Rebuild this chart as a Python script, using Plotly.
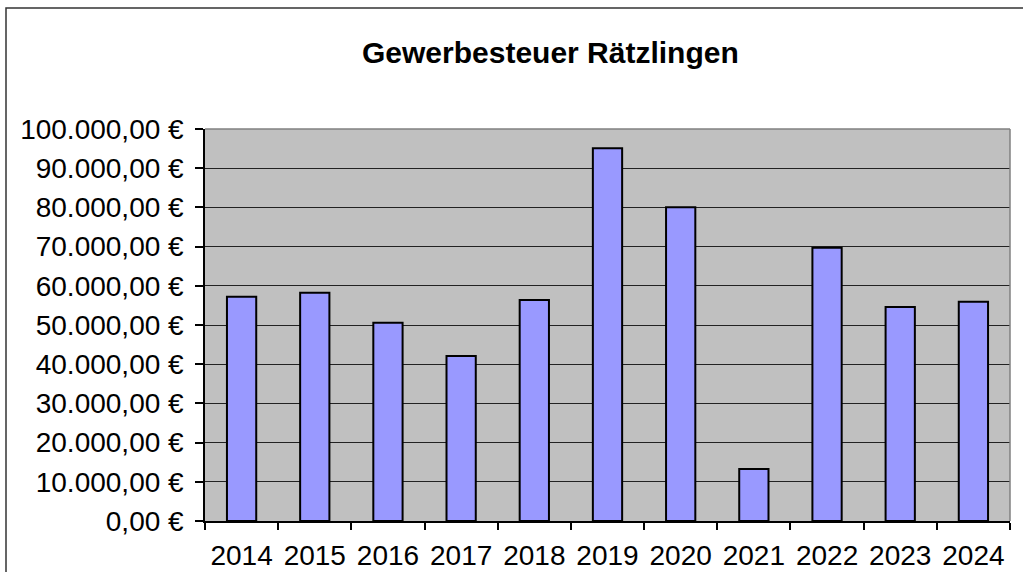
import plotly.graph_objects as go

years = ["2014", "2015", "2016", "2017", "2018", "2019", "2020", "2021", "2022", "2023", "2024"]
values = [57200, 58240, 50590, 42090, 56380, 95080, 80030, 13270, 69720, 54590, 55940]
y_tickvals = [0, 10000, 20000, 30000, 40000, 50000, 60000, 70000, 80000, 90000, 100000]
y_ticktext = ["0,00 €", "10.000,00 €", "20.000,00 €", "30.000,00 €", "40.000,00 €", "50.000,00 €",
              "60.000,00 €", "70.000,00 €", "80.000,00 €", "90.000,00 €", "100.000,00 €"]
title_text = "Gewerbesteuer Rätzlingen"

FONT = "Liberation Sans, Arial, sans-serif"

fig = go.Figure(go.Bar(
    x=years, y=values,
    marker=dict(color="#9999FF", line=dict(color="black", width=2)),
    hoverinfo="x+y",
))

fig.update_layout(
    width=1023, height=572,
    margin=dict(l=205, r=13, t=129, b=51, autoexpand=False),
    paper_bgcolor="white", plot_bgcolor="#C0C0C0",
    bargap=0.6, showlegend=False,
    font=dict(family=FONT, color="black", size=28),
    annotations=[dict(
        text="<b>" + title_text + "</b>", xref="paper", yref="paper",
        x=(550 - 205) / 805, y=(521 - 52) / 392, xanchor="center", yanchor="middle",
        showarrow=False, font=dict(family=FONT, size=30, color="black"),
    )],
    shapes=[
        dict(type="rect", xref="paper", yref="paper", x0=(6 - 205) / 805, x1=1.2,
             y0=-0.5, y1=(521 - 8) / 392, line=dict(color="#333333", width=1.5), layer="below"),
        dict(type="line", xref="paper", yref="paper", x0=0, x1=1, y0=1, y1=1,
             line=dict(color="#808080", width=1.5)),
        dict(type="line", xref="paper", yref="paper", x0=1, x1=1, y0=0, y1=1,
             line=dict(color="#808080", width=1.5)),
    ],
)

fig.update_xaxes(
    type="category", tickson="boundaries", ticks="outside", ticklen=7, tickwidth=1.5,
    tickcolor="black", showline=True, linecolor="black", linewidth=1.5, showgrid=False,
    ticklabelstandoff=9, tickfont=dict(size=28, family=FONT),
)
fig.update_yaxes(
    range=[0, 100000], tickvals=y_tickvals, ticktext=y_ticktext,
    ticks="outside", ticklen=8, tickwidth=1.5, tickcolor="black",
    showline=True, linecolor="black", linewidth=1.5,
    showgrid=True, gridcolor="#222222", gridwidth=1.3, zeroline=False,
    ticklabelstandoff=6, tickfont=dict(size=28, family=FONT),
)

fig.write_html(
    "out.html",
    config={"displayModeBar": False},
    post_script="document.body.style.margin='0';document.body.style.overflow='hidden';",
)
